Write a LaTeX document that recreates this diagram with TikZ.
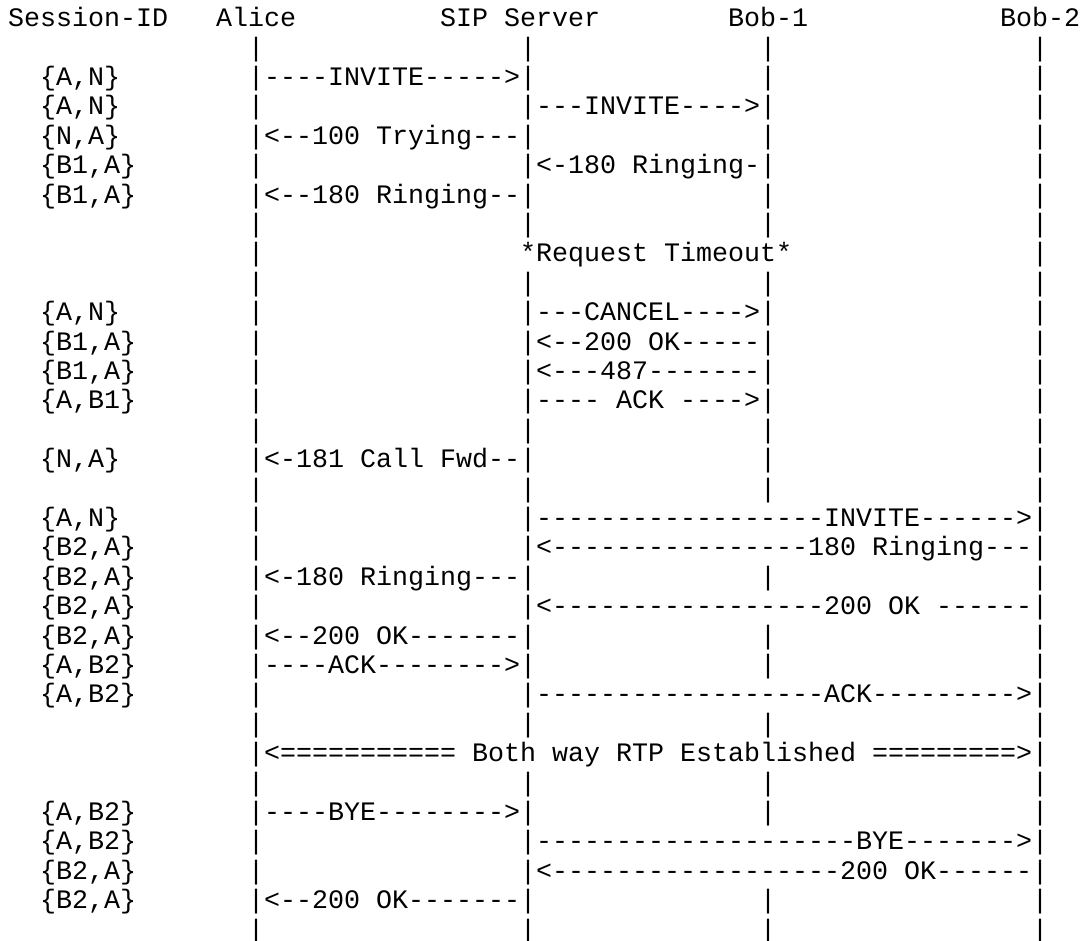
\documentclass[tikz,border=0pt]{standalone}
\usepackage{fontspec}
\setmonofont{Liberation Mono}
\begin{document}
\begin{tikzpicture}[x=16pt, y=-29.4pt,
    glyph/.style={inner sep=0pt, outer sep=0pt, anchor=base west,
      font=\fontsize{26.66pt}{30pt}\selectfont\ttfamily},
    lane/.style={glyph},
    msg/.style={glyph},
    sid/.style={glyph}
    ]
    \path[use as bounding box, fill=white] (-8.2pt,26.6pt) rectangle (1075.8pt,-913.4pt);
    % header
    \node[glyph] (S) at (0,0) {Session-ID};
    \node[glyph] (Al) at (13,0) {Alice};
    \node[glyph] (Sv) at (27,0) {SIP Server};
    \node[glyph] (B1) at (45,0) {Bob-1};
    \node[glyph] (B2) at (62,0) {Bob-2};
    % life lines
    \foreach \k in {1,...,31} {
      \node[lane] (a\k) at (15,\k) {|};
      \node[lane] (d\k) at (64,\k) {|};
    }
    \foreach \k in {1,...,7,9,10,...,24,26,27,...,31}
      \node[lane] (s\k) at (32,\k) {|};
    \foreach \k in {1,...,7,9,10,...,16,19,21,22,24,26,27,30,31}
      \node[lane] (b\k) at (47,\k) {|};
    % session ids
    \foreach \k/\id in {2/{A,N},3/{A,N},4/{N,A},5/{B1,A},6/{B1,A},
        10/{A,N},11/{B1,A},12/{B1,A},13/{A,B1},15/{N,A},
        17/{A,N},18/{B2,A},19/{B2,A},20/{B2,A},21/{B2,A},22/{A,B2},23/{A,B2},
        27/{A,B2},28/{A,B2},29/{B2,A},30/{B2,A}}
      \node[sid] (id\k) at (2,\k) {\{\id\}};
    % messages
    \node[msg] (m2) at (16,2) {----INVITE----->};
    \node[msg] (m3) at (33,3) {---INVITE---->};
    \node[msg] (m4) at (16,4) {<--100 Trying---};
    \node[msg] (m5) at (33,5) {<-180 Ringing-};
    \node[msg] (m6) at (16,6) {<--180 Ringing--};
    \node[msg] (m8) at (32,8) {*Request Timeout*};
    \node[msg] (m10) at (33,10) {---CANCEL---->};
    \node[msg] (m11) at (33,11) {<--200 OK-----};
    \node[msg] (m12) at (33,12) {<---487-------};
    \node[msg] (m13) at (33,13) {---- ACK ---->};
    \node[msg] (m15) at (16,15) {<-181 Call Fwd--};
    \node[msg] (m17) at (33,17) {------------------INVITE------>};
    \node[msg] (m18) at (33,18) {<----------------180 Ringing---};
    \node[msg] (m19) at (16,19) {<-180 Ringing---};
    \node[msg] (m20) at (33,20) {<-----------------200 OK ------};
    \node[msg] (m21) at (16,21) {<--200 OK-------};
    \node[msg] (m22) at (16,22) {----ACK-------->};
    \node[msg] (m23) at (33,23) {------------------ACK--------->};
    \node[msg] (m25) at (16,25) {<=========== Both way RTP Established =========>};
    \node[msg] (m27) at (16,27) {----BYE-------->};
    \node[msg] (m28) at (33,28) {--------------------BYE------->};
    \node[msg] (m29) at (33,29) {<------------------200 OK------};
    \node[msg] (m30) at (16,30) {<--200 OK-------};
\end{tikzpicture}
\end{document}
